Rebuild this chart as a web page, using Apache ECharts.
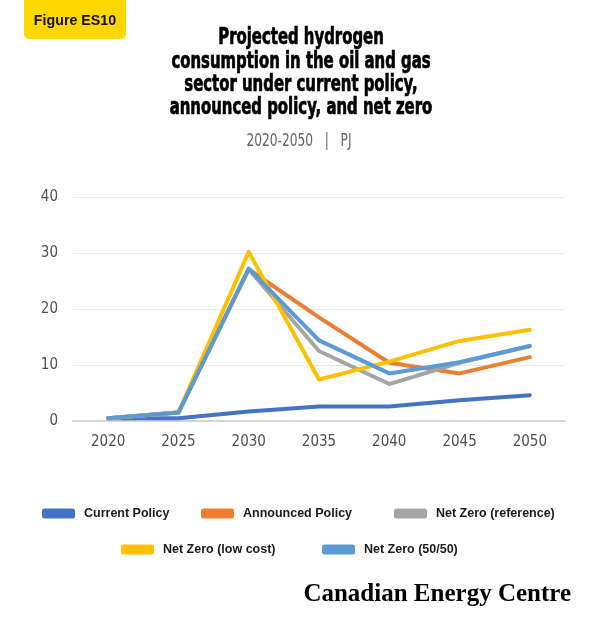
<!DOCTYPE html>
<html><head><meta charset="utf-8">
<script src="https://cdn.jsdelivr.net/npm/echarts@6/dist/echarts.min.js"></script>
<style>html,body{margin:0;padding:0;background:#fff}#c{width:600px;height:638px}</style>
</head><body><div id="c"></div>
<script>
const years = ['2020','2025','2030','2035','2040','2045','2050'];
const yTicks = [0, 10, 20, 30, 40];
const currentPolicy = [0.5, 0.5, 1.7, 2.6, 2.6, 3.7, 4.6];
const announcedPolicy = [0.5, 1.5, 27.1, 18.5, 10.4, 8.5, 11.4];
const netZeroRef = [0.5, 1.5, 27.1, 12.5, 6.6, 10.4, 13.4];
const netZeroLow = [0.5, 1.5, 30.2, 7.4, 10.6, 14.3, 16.3];
const netZero5050 = [0.5, 1.5, 27.2, 14.4, 8.5, 10.5, 13.4];
const names = ['Current Policy','Announced Policy','Net Zero (reference)','Net Zero (low cost)','Net Zero (50/50)'];
const colors = ['#4472C4','#ED7D31','#A5A5A5','#FFC000','#5B9BD5'];
const values = [currentPolicy, announcedPolicy, netZeroRef, netZeroLow, netZero5050];
const titleLines = ['Projected hydrogen','consumption in the oil and gas','sector under current policy,','announced policy, and net zero'];

const chart = echarts.init(document.getElementById('c'));
const cond = '"DejaVu Sans Condensed", "Liberation Sans Narrow", sans-serif';
const legendPos = [[42,507],[201,507],[394,507],[121,543],[322,543]];

const graphics = [
  {type: 'rect', shape: {x: 24, y: -6, width: 102, height: 45, r: 5}, style: {fill: '#FFD700'}},
  {type: 'text', x: 75, y: 21, scaleX: 0.95, style: {x: 0, y: 0, text: 'Figure ES10', align: 'center', verticalAlign: 'middle',
    font: 'bold 15px "Liberation Sans", Arial, sans-serif', fill: '#111'}},
  {type: 'text', x: 299, y: 142, scaleX: 0.8, style: {x: 0, y: 0, text: '2020-2050   |   PJ', align: 'center', verticalAlign: 'middle',
    font: 'normal 17px ' + cond, fill: '#666'}},
  {type: 'text', x: 571, y: 595, style: {x: 0, y: 0, text: 'Canadian Energy Centre', align: 'right', verticalAlign: 'middle',
    font: 'bold 25px "Liberation Serif", "DejaVu Serif", serif', fill: '#000'}}
];
titleLines.forEach((t, i) => graphics.push({
  type: 'text', x: 301, y: 38.5 + i * 23.3, scaleX: 0.72,
  style: {x: 0, y: 0, text: t, align: 'center', verticalAlign: 'middle', font: 'bold 23px ' + cond,
    fill: '#000', stroke: '#000', lineWidth: 0.7}
}));

chart.setOption({
  animation: false,
  backgroundColor: '#fff',
  graphic: graphics,
  legend: names.map((n, i) => ({
    data: [n], left: legendPos[i][0], top: legendPos[i][1],
    icon: 'roundRect', itemWidth: 33, itemHeight: 10, padding: 0,
    textStyle: {fontFamily: '"Liberation Sans", Arial, sans-serif', fontWeight: 'bold', fontSize: 12.5, color: '#1a1a1a', padding: [0,0,0,4]}
  })),
  grid: {left: 73, right: 35, top: 197, bottom: 217},
  xAxis: {
    type: 'category', data: years, boundaryGap: true,
    axisLine: {lineStyle: {color: '#d4d4d4', width: 2}},
    axisTick: {alignWithLabel: true, length: 9, lineStyle: {color: '#d4d4d4'}},
    axisLabel: {margin: 14, fontFamily: cond, fontSize: 15, color: '#505050'}
  },
  yAxis: {
    type: 'value', min: yTicks[0], max: yTicks[yTicks.length-1], interval: 10,
    axisLine: {show: false}, axisTick: {show: false},
    splitLine: {lineStyle: {color: '#e8e8e8', width: 1}},
    axisLabel: {margin: 15, fontFamily: cond, fontSize: 15, color: '#505050'}
  },
  series: names.map((n, i) => ({
    name: n, type: 'line', data: values[i], symbol: 'none',
    lineStyle: {color: colors[i], width: 4, cap: 'round', join: 'round'},
    itemStyle: {color: colors[i]}
  }))
});
</script></body></html>
